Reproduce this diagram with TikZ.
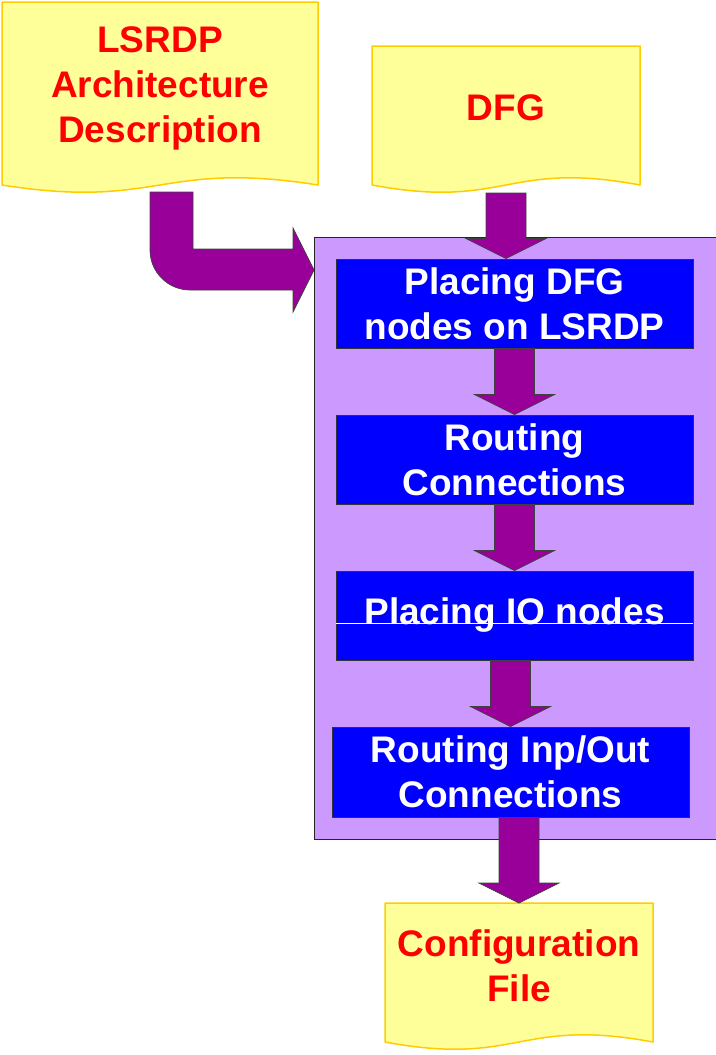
\documentclass[tikz,border=0pt]{standalone}
\usepackage{fontspec}
\setmainfont{Liberation Sans}
\usetikzlibrary{calc}

\definecolor{docfill}{HTML}{FFFF99}
\definecolor{docline}{HTML}{FFCC00}
\definecolor{doctext}{HTML}{FF0000}
\definecolor{stagefill}{HTML}{CC99FF}
\definecolor{stepfill}{HTML}{0000FF}
\definecolor{flowfill}{HTML}{990099}

\tikzset{
  docshape/.style={fill=docfill, draw=docline, line width=1.5pt, line join=round},
  doclabel/.style={text=doctext, font=\bfseries\fontsize{37}{45}\selectfont,
    align=center, inner sep=0pt},
  stage/.style={fill=stagefill, draw=black!85, line width=0.9pt},
  stepbox/.style={fill=stepfill, draw=black!80, line width=0.9pt,
    minimum width=357pt, minimum height=89pt, inner sep=0pt,
    text=white, font=\bfseries\fontsize{37}{45}\selectfont, align=center},
  blockarrow/.style={fill=flowfill, draw=black!75, line width=0.7pt, line join=miter}
}

% document symbol: top-left corner, right x, bottom y of the wavy edge
\newcommand\docpath[4]{%
  \path[docshape] (#1,#2) -- (#3,#2) -- (#3,#4)
    .. controls ({(#1+#3)/2},#4-25) and ({(#1+#3)/2},#4+25) .. (#1,#4) -- cycle;}

% vertical block arrow: shaft starts at the y of #1, tip at #2
\newcommand\vflow[2]{%
  \draw[blockarrow] let \p1=(#1), \p2=(#2) in
    (\x2-20pt,\y1) -- (\x2-20pt,\y2+20pt) -- (\x2-40pt,\y2+20pt) -- (\x2,\y2)
    -- (\x2+40pt,\y2+20pt) -- (\x2+20pt,\y2+20pt) -- (\x2+20pt,\y1) -- cycle;}

\begin{document}
\begin{tikzpicture}[x=1pt,y=-1pt]
\useasboundingbox (0,0) rectangle (715,1055);

% input documents
\docpath{2}{2}{318}{185}
\node[doclabel] (arch) at (160,88) {LSRDP\\Architecture\\Description};
\docpath{372}{46}{640}{185}
\node[doclabel] (dfg) at (506,108) {DFG};

% output document
\docpath{385}{903}{653}{1042}
\node[doclabel] (config) at (519,966) {Configuration\\File};
\coordinate (cfgtop) at (config |- 0,903);

% tool flow container
\path[stage] (314,237) rectangle (720,839);
\coordinate (stagein) at (314,270);

% processing steps
\node[stepbox] (place) at (514.5,303.5) {Placing DFG\\nodes on LSRDP};
\node[stepbox] (route) at (514.5,459.5) {Routing\\Connections};
\node[stepbox] (io) at (514.5,615.5) {\raisebox{-1.5pt}{Placing IO nodes}};
\node[stepbox, minimum height=90pt] (inout) at (510.5,772) {Routing Inp/Out\\Connections};
\draw[white, line width=0.5pt] (io.west |- 0,623) -- (io.east |- 0,623);

% bent arrow from the architecture description
\coordinate (archout) at (150,192);
\draw[blockarrow] (archout) -- (193,192) -- (193,249) -- (293,249) -- (293,228)
  -- (stagein) -- (293,312) -- (293,290) -- (190,290)
  .. controls (168,290) and (150,272) .. (150,250) -- cycle;

% flow arrows
\coordinate (dfgout) at (506,193);
\vflow{dfgout}{dfg |- place.north}
\vflow{place.south}{route.north}
\vflow{route.south}{io.north}
\vflow{io.south}{inout.north}
\vflow{inout.south}{cfgtop}
\end{tikzpicture}
\end{document}
